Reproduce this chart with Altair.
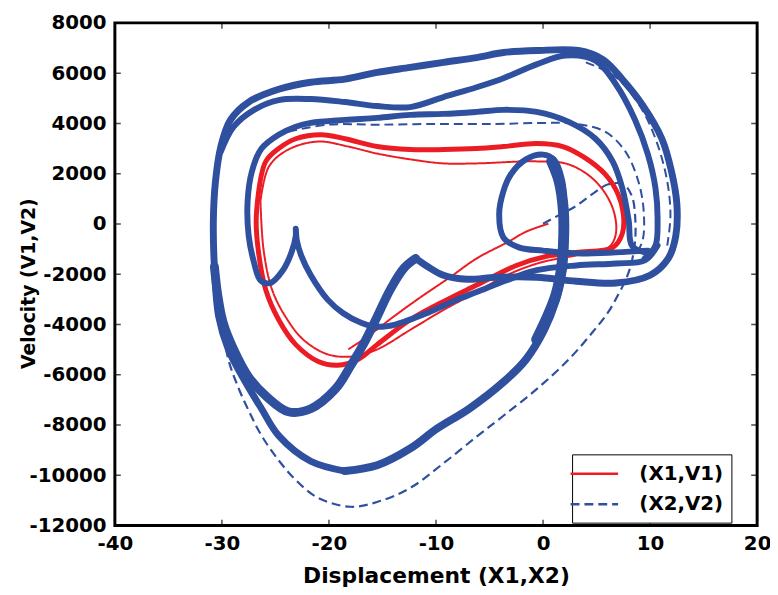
import altair as alt
import pandas as pd

RED = "#ec1c24"
BLUE = "#2f4f9f"
SER1 = "(X1,V1)"
SER2 = "(X2,V2)"

x_ticks = [-40, -30, -20, -10, 0, 10, 20]
y_ticks = [-12000, -10000, -8000, -6000, -4000, -2000, 0, 2000, 4000, 6000, 8000]

# ---- (X1,V1): main limit-cycle band
r_band_x = [-26.6, -25.9, -24.7, -23.1, -20.7, -18.5, -15.5, -12.4, -9.3, -6.2, -3.7, -0.6, 1.85, 4.0, 5.8, 7.0, 7.5, 7.4, 6.5, 3.1, 0.3, -2.5, -6.2, -9.0, -12.4, -15.5, -17.3, -19.2, -21.0, -23.1, -24.7, -25.9, -26.6, -26.8, -26.6]
r_band_y = [1190, 2490, 3000, 3390, 3550, 3390, 3080, 2960, 2960, 3000, 3080, 3200, 3080, 2610, 1980, 1190, 400, -390, -940, -1130, -1290, -1650, -2430, -3020, -3810, -4800, -5390, -5620, -5470, -4800, -3810, -2630, -1060, 130, 1190]
# ---- (X1,V1): thinner inner pass
r_thin_x = [-26.4, -25.6, -23.8, -21.0, -18.2, -15.5, -12.4, -9.3, -6.2, -0.6, 2.4, 4.9, 6.5, 6.8, 6.1, 3.1, -0.2, -3.4, -6.2, -9.3, -12.4, -15.5, -17.8, -20.1, -22.4, -24.0, -25.3, -26.1, -26.4]
r_thin_y = [910, 2290, 2960, 3280, 3080, 2800, 2570, 2410, 2410, 2490, 2370, 1700, 640, -390, -940, -1250, -1530, -2040, -2710, -3420, -4210, -4990, -5270, -5190, -4600, -3730, -2630, -1060, 910]
# ---- (X1,V1): transient from the origin
r_start_x = [0.5, -1.6, -3.2, -6.2, -8.7, -11.8, -14.1, -16.4, -18.2]
r_start_y = [10, -310, -700, -1370, -2120, -3020, -3730, -4480, -4990]

# ---- (X2,V2): outer loop
b_outer_x = [-18.5, -21.7, -24.7, -26.3, -27.8, -29.4, -30.3, -30.7, -30.8, -30.6, -30.1, -29.2, -27.5, -24.7, -21.7, -18.5, -15.5, -12.4, -9.3, -6.2, -3.7, -0.6, 3.3, 5.6, 7.4, 9.3, 11.1, 12.0, 12.5, 12.4, 11.7, 10.0, 6.8, 3.1, -0.6, -4.4, -7.1, -9.3, -10.8, -11.9]
b_outer_y = [-9830, -9440, -8420, -7350, -6290, -4990, -3690, -1720, 130, 1700, 3080, 4140, 4850, 5360, 5640, 5760, 6030, 6230, 6430, 6620, 6820, 6900, 6900, 6540, 5760, 4730, 3390, 2090, 800, -470, -1370, -2040, -2350, -2280, -2120, -2120, -2200, -2040, -1690, -1370]
b_bottom_x = [-18.5, -15.5, -12.4, -9.9, -6.9, -3.7, -1.6, 0.1, 1.2, 1.85]
b_bottom_y = [-9830, -9600, -8930, -8140, -7350, -6290, -5390, -4210, -3020, -1760]
b_hump_x = [-11.9, -13.0, -14.3, -15.5, -16.7, -18.0, -19.4, -21.7, -23.8, -25.8, -27.5, -28.9, -29.9, -30.4, -30.7]
b_hump_y = [-1370, -1760, -2630, -3690, -4720, -5660, -6570, -7350, -7470, -6880, -6090, -4990, -3900, -2800, -1700]
b_inner_x = [9.5, 8.3, 8.0, 7.4, 6.5, 4.9, 2.4, -0.6, -3.7, -6.2, -9.3, -12.4, -15.5, -18.5, -21.7, -23.1, -24.7, -26.3, -27.2, -27.6, -27.5, -27.0, -26.4, -25.5, -24.3, -23.5, -23.1, -23.1, -23.0, -22.6, -21.7, -20.1, -18.7, -17.0, -15.5, -13.9, -10.8, -8.1, -6.2, -3.4, -0.6, 3.1, 6.8, 9.5, 10.7]
b_inner_y = [-1130, -860, 130, 1430, 2490, 3390, 4060, 4460, 4540, 4460, 4380, 4340, 4220, 4140, 4020, 3870, 3550, 3000, 2090, 910, -470, -1530, -2240, -2350, -1840, -1130, -470, -190, -660, -1250, -2040, -3020, -3540, -3930, -4090, -4010, -3540, -3020, -2710, -2240, -1840, -1650, -1570, -1450, -860]
b_mid_x = [-30.1, -28.9, -27.0, -24.7, -21.7, -18.5, -15.5, -12.4, -9.3, -6.2, -3.7, -0.6, 2.1, 4.9, 6.8, 8.6, 9.8, 10.5, 10.7, 10.5, 9.5]
b_mid_y = [2880, 3870, 4540, 4930, 4970, 4850, 4690, 4650, 5050, 5440, 5800, 6350, 6700, 6500, 5560, 4140, 2760, 1430, 130, -860, -1370]
b_q_x = [9.8, 6.8, 3.1, 0.0, -2.2, -3.7, -4.1, -3.7, -3.0, -1.6, 0.0, 1.0, 1.8, 2.0, 1.9, 1.85]
b_q_y = [-1060, -1130, -1170, -1060, -940, -540, 400, 1310, 1980, 2570, 2760, 2570, 1700, 320, -860, -1760]
b_stem_x = [0.8, 1.5, 1.9, 1.9, 1.7, 1.2, 0.4, -0.6]
b_stem_y = [2490, 1700, 520, -860, -1840, -2830, -3700, -4600]
# ---- (X2,V2): dashed passes
b_start_x = [0.0, 1.7, 3.1, 4.6, 6.1, 7.5, 8.3, 8.6, 8.6, 8.2, 7.7, 7.0, 6.1, 4.6, 2.4, -0.6, -3.7, -6.2, -9.3, -12.4, -15.5, -18.0, -21.0, -23.1, -24.7, -26.3, -27.5, -28.6, -29.4, -29.9, -30.3]
b_start_y = [10, 400, 720, 1190, 1580, 1580, 1110, 320, -660, -1650, -2240, -2830, -3500, -4320, -5390, -6570, -7630, -8460, -9520, -10500, -11060, -11250, -10900, -10190, -9400, -8420, -7430, -6370, -5390, -4210, -3020]
b_d1_x = [-23.8, -20.1, -15.5, -9.9, -4.4, -0.2, 3.1, 5.8, 7.7, 8.9, 9.4, 9.3, 8.6]
b_d1_y = [3670, 3950, 3950, 3980, 3980, 4020, 3980, 3670, 2880, 1700, 520, -660, -1250]
b_d2_x = [4.0, 6.8, 9.1, 10.6, 11.6, 11.9, 11.6]
b_d2_y = [6430, 5840, 4650, 3280, 1700, 320, -860]

# (name, series, kind, stroke width, xs, ys)
paths = [
    ("r_band", SER1, "band", 5.0, r_band_x, r_band_y),
    ("r_thin", SER1, "trace", 2.0, r_thin_x, r_thin_y),
    ("r_start", SER1, "trace", 2.0, r_start_x, r_start_y),
    ("b_outer", SER2, "band", 7.0, b_outer_x, b_outer_y),
    ("b_bottom", SER2, "band", 8.0, b_bottom_x, b_bottom_y),
    ("b_hump", SER2, "band", 9.0, b_hump_x, b_hump_y),
    ("b_inner", SER2, "band", 6.0, b_inner_x, b_inner_y),
    ("b_mid", SER2, "band", 6.0, b_mid_x, b_mid_y),
    ("b_q", SER2, "band", 6.0, b_q_x, b_q_y),
    ("b_stem", SER2, "band", 11.0, b_stem_x, b_stem_y),
    ("b_start", SER2, "trace", 2.2, b_start_x, b_start_y),
    ("b_d1", SER2, "trace", 2.0, b_d1_x, b_d1_y),
    ("b_d2", SER2, "trace", 2.0, b_d2_x, b_d2_y),
]

rows = []
for name, ser, kind, w, xs, ys in paths:
    for i, (xv, yv) in enumerate(zip(xs, ys)):
        rows.append({"path": name, "series": ser, "kind": kind, "w": w, "i": i, "x": xv, "y": yv})
df = pd.DataFrame(rows)

FONT = "DejaVu Sans"
label_expr = "datum.value < 0 ? '-' + format(-datum.value, 'd') : format(datum.value, 'd')"

x_axis = alt.Axis(values=x_ticks, title="Displacement (X1,X2)", grid=False, domain=False,
                  ticks=False, tickSize=0, labelPadding=8, labelFlush=False, labelOverlap=False,
                  labelExpr=label_expr, titleY=41,
                  labelFont=FONT, labelFontSize=20, labelFontWeight="bold", labelColor="black",
                  titleFont=FONT, titleFontSize=22, titleFontWeight="bold", titleColor="black")
y_axis = alt.Axis(values=y_ticks, title="Velocity (V1,V2)", grid=False, domain=False,
                  ticks=False, tickSize=0, labelPadding=9, labelFlush=False, labelOverlap=False,
                  labelExpr=label_expr, titleX=-77, titleY=263,
                  labelFont=FONT, labelFontSize=20, labelFontWeight="bold", labelColor="black",
                  titleFont=FONT, titleFontSize=19, titleFontWeight="bold", titleColor="black")

xs_ = alt.Scale(domain=[-40, 20], nice=False, zero=False)
ys_ = alt.Scale(domain=[-12000, 8000], nice=False, zero=False)


def X():
    return alt.X("x:Q", scale=xs_, axis=x_axis)


def Y():
    return alt.Y("y:Q", scale=ys_, axis=y_axis)


legend = alt.Legend(title=None, orient="none", legendX=462, legendY=436,
                    symbolType="M-2.4,0H2.4", symbolSize=400, symbolStrokeWidth=2.5,
                    symbolOffset=3, labelOffset=34,
                    padding=8, rowPadding=9, strokeColor="black", fillColor="white",
                    labelExpr="datum.label + '\u2003'",
                    labelFont=FONT, labelFontSize=20, labelFontWeight="bold", labelColor="black")
color_enc = alt.Color("series:N", scale=alt.Scale(domain=[SER1, SER2], range=[RED, BLUE]), legend=legend)
dash_enc = alt.StrokeDash("series:N", scale=alt.Scale(domain=[SER1, SER2], range=[[1, 0], [9, 5]]), legend=legend)


def band_layer(ser, col):
    d = df[(df.kind == "band") & (df.series == ser)]
    return alt.Chart(d).mark_line(color=col, clip=True, interpolate="catmull-rom",
                                  strokeCap="round", strokeJoin="round").encode(
        x=X(), y=Y(), order=alt.Order("i:Q"), detail="path:N",
        strokeWidth=alt.StrokeWidth("w:Q", scale=None, legend=None))


def trace_layer(ser):
    d = df[(df.kind == "trace") & (df.series == ser)]
    return alt.Chart(d).mark_line(clip=True, interpolate="catmull-rom", strokeJoin="round").encode(
        x=X(), y=Y(), order=alt.Order("i:Q"), detail="path:N",
        color=color_enc, strokeDash=dash_enc,
        strokeWidth=alt.StrokeWidth("w:Q", scale=None, legend=None))


vt = pd.DataFrame([{"x": v, "y": -12000} for v in x_ticks] + [{"x": v, "y": 8000} for v in x_ticks])
ht = pd.DataFrame([{"x": -40, "y": v} for v in y_ticks] + [{"x": 20, "y": v} for v in y_ticks])
vticks = alt.Chart(vt).mark_tick(orient="vertical", size=12, thickness=1.5, color="black", clip=True).encode(x=X(), y=Y())
hticks = alt.Chart(ht).mark_tick(orient="horizontal", size=12, thickness=1.5, color="black", clip=True).encode(x=X(), y=Y())

chart = alt.layer(
    band_layer(SER1, RED), trace_layer(SER1),
    band_layer(SER2, BLUE), trace_layer(SER2),
    vticks, hticks,
).properties(
    width=649, height=508,
    background="white",
    autosize=alt.AutoSizeParams(type="none"),
    padding={"left": 108, "top": 12, "right": 13, "bottom": 59},
).configure_view(stroke="black", strokeWidth=3)

chart.save("out.html", embed_options={"renderer": "svg", "actions": False})
